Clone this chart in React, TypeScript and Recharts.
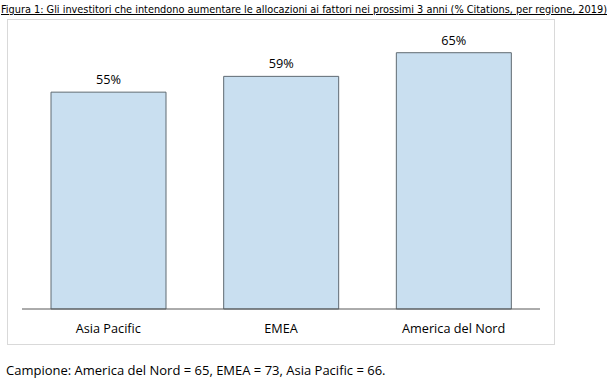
import React from 'react';
import { BarChart, Bar, XAxis, YAxis, LabelList } from 'recharts';

const regions = ['Asia Pacific', 'EMEA', 'America del Nord'];
const citations = [55, 59, 65];

const titleText =
  'Figura 1: Gli investitori che intendono aumentare le allocazioni ai fattori nei prossimi 3 anni (% Citations, per regione, 2019)';
const footerText = 'Campione: America del Nord = 65, EMEA = 73, Asia Pacific = 66.';

const chartData = regions.map((region, i) => ({ region, value: citations[i] }));

const font = '"Open Sans", sans-serif';

export default function App() {
  return (
    <div style={{ position: 'absolute', left: 0, top: 0, width: 611, height: 379, background: '#fff', fontFamily: font }}>
      {/* Title in a narrow face so it fits the page width like the original */}
      <div
        style={{
          position: 'absolute',
          left: 1,
          top: 2,
          fontFamily: '"DejaVu Sans Condensed", "Open Sans", sans-serif',
          fontStretch: 'condensed',
          fontSize: 10.85,
          lineHeight: '15px',
          textDecoration: 'underline',
          whiteSpace: 'nowrap',
          color: '#000',
        }}
      >
        {titleText}
      </div>

      <div
        style={{
          position: 'absolute',
          left: 7,
          top: 19,
          width: 546,
          height: 324,
          border: '1px solid #d9d9d9',
        }}
      >
        <BarChart
          width={546}
          height={324}
          data={chartData}
          margin={{ top: 13, right: 14, bottom: 5, left: 14 }}
          barCategoryGap="16.8%"
        >
          <XAxis
            dataKey="region"
            height={30}
            tickLine={false}
            tickMargin={9}
            axisLine={{ stroke: '#595959', strokeWidth: 1 }}
            tick={{ fill: '#000', fontSize: 12.7, fontFamily: font }}
          />
          <YAxis hide domain={[0, 70]} />
          <Bar dataKey="value" fill="#c9dff0" stroke="#5f6a72" strokeWidth={1} isAnimationActive={false}>
            <LabelList
              dataKey="value"
              position="top"
              offset={8}
              formatter={(v: any) => `${v}%`}
              style={{ fill: '#000', fontSize: 12.7, fontFamily: font }}
            />
          </Bar>
        </BarChart>
      </div>

      <div
        style={{
          position: 'absolute',
          left: 6,
          top: 362,
          fontSize: 13,
          lineHeight: '17px',
          color: '#000',
          whiteSpace: 'nowrap',
        }}
      >
        {footerText}
      </div>
    </div>
  );
}
